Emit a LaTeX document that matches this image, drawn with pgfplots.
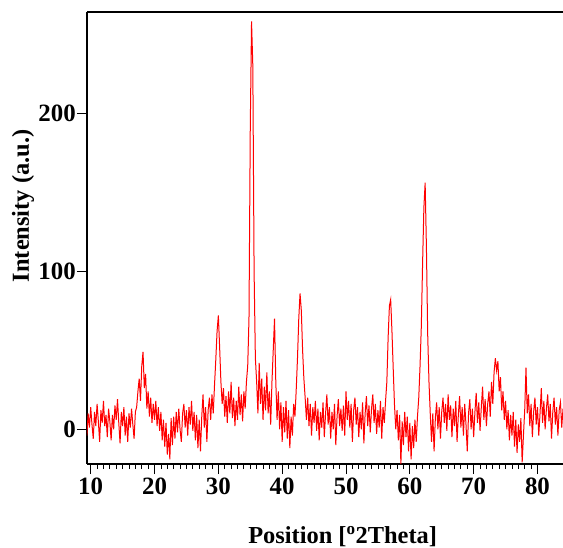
\documentclass[border=0pt]{standalone}
\usepackage{fontspec}
\setmainfont{Liberation Serif}
\usepackage{pgfplots}
\pgfplotsset{compat=1.18}
\begin{document}
\begin{tikzpicture}
\path[use as bounding box] (-87bp,-84bp) rectangle (476bp,464bp);
\begin{axis}[
  at={(0,0)}, anchor=south west,
  scale only axis,
  width=476bp, height=452bp,
  xmin=9.42, xmax=84.0,
  ymin=-22, ymax=264,
  axis x line*=box,
  axis y line*=left,
  axis line style={-, line width=1.2bp, black},
  xtick={10,20,...,80},
  minor x tick num=9,
  ytick={0,100,200},
  xtick pos=bottom,
  ytick pos=left,
  tick align=outside,
  major tick length=10bp,
  minor tick length=5bp,
  every tick/.style={black, line width=0.8bp},
  /pgf/number format/assume math mode=true,
  ticklabel style={font=\bfseries\fontsize{25}{26}\selectfont},
  xticklabel style={inner sep=4bp},
  yticklabel style={inner sep=1bp},
  xlabel={Position [\textsuperscript{o}2Theta]},
  ylabel={Intensity (a.u.)},
  label style={font=\bfseries\fontsize{24.5}{26}\selectfont},
  xlabel style={at={([yshift=-79bp]rel axis cs:0.537,0)}, anchor=base},
  ylabel style={at={([xshift=-58bp]rel axis cs:0,0.571)}, anchor=base, rotate=0},
  clip=true,
]
\addplot[red, line width=1bp, line join=miter] coordinates {
(9.4,-4)(9.6,10)(9.8,1)(10.0,14)(10.2,3)(10.4,-6)(10.6,11)(10.8,2)(11.0,16)(11.2,5)(11.4,-8)(11.6,12)(11.8,4)(12.0,18)(12.2,2)(12.4,9)(12.6,-5)(12.8,13)(13.0,5)(13.2,-7)(13.4,9)(13.6,0)(13.8,15)(14.0,6)(14.2,19)(14.4,4)(14.6,-9)(14.8,11)(15.0,2)(15.2,14)(15.4,-4)(15.6,8)(15.8,-8)(16.0,10)(16.2,1)(16.4,13)(16.6,3)(16.8,-6)(17.0,11)
(17.2,14)(17.4,24)(17.6,32)(17.8,18)(18.0,40)(18.2,49)(18.4,26)(18.6,35)(18.8,13)(19.0,24)(19.2,8)(19.4,20)(19.6,4)(19.8,16)(20.0,6)(20.2,18)(20.4,2)(20.6,14)(20.8,-1)(21.0,11)(21.2,-7)(21.4,6)(21.6,-11)(21.8,4)(22.0,-16)(22.2,-3)(22.4,-19)(22.6,7)(22.8,-10)(23.0,8)(23.2,-6)(23.4,11)(23.6,-2)(23.8,13)(24.0,0)(24.2,-8)(24.4,10)(24.6,16)(24.8,1)(25.0,12)(25.2,-4)(25.4,14)(25.6,3)(25.8,18)(26.0,-1)(26.2,11)(26.4,-7)(26.6,9)(26.8,-12)(27.0,6)(27.2,-14)(27.4,8)(27.6,22)(27.8,1)(28.0,14)(28.2,-8)(28.4,12)(28.6,20)(28.8,6)(29.0,22)(29.2,10)(29.4,28)(29.6,44)(29.8,62)(30.0,72)(30.2,52)(30.4,30)(30.6,16)(30.8,26)(31.0,8)(31.2,21)(31.4,4)(31.6,24)(31.8,10)(32.0,30)(32.2,7)(32.4,20)(32.6,2)(32.8,18)(33.0,6)(33.2,27)(33.4,9)(33.6,22)(33.8,5)(34.0,24)(34.2,13)(34.4,30)(34.6,40)(34.8,70)(35.0,190)(35.2,258)(35.4,230)(35.6,100)(35.8,45)(36.0,30)(36.2,10)(36.4,42)(36.6,16)(36.8,32)(37.0,6)(37.2,27)(37.4,12)(37.6,36)(37.8,10)(38.0,24)(38.2,3)(38.4,30)(38.6,50)(38.8,70)(39.0,30)(39.2,6)(39.4,24)(39.6,0)(39.8,17)(40.0,-8)(40.2,14)(40.4,-2)(40.6,18)(40.8,-6)(41.0,12)(41.2,-12)(41.4,8)(41.6,-4)(41.8,16)(42.0,8)(42.2,25)(42.4,45)(42.6,70)(42.8,86)(43.0,75)(43.2,50)(43.4,32)(43.6,20)(43.8,6)(44.0,20)(44.2,2)(44.4,16)(44.6,-4)(44.8,14)(45.0,4)(45.2,18)(45.4,-1)(45.6,13)(45.8,-7)(46.0,11)(46.2,1)(46.4,17)(46.6,-5)(46.8,10)(47.0,22)(47.2,3)(47.4,14)(47.6,-6)(47.8,11)(48.0,0)(48.2,16)(48.4,-10)(48.6,8)(48.8,19)(49.0,2)(49.2,13)(49.4,-1)(49.6,15)(49.8,-4)(50.0,24)(50.2,6)(50.4,18)(50.6,1)(50.8,16)(51.0,-8)(51.2,12)(51.4,20)(51.6,3)(51.8,14)(52.0,-5)(52.2,11)(52.4,0)(52.6,17)(52.8,-9)(53.0,10)(53.2,21)(53.4,2)(53.6,15)(53.8,-2)(54.0,13)(54.2,22)(54.4,4)(54.6,16)(54.8,-3)(55.0,12)(55.2,1)(55.4,18)(55.6,-6)(55.8,14)(56.0,4)(56.2,18)(56.4,30)(56.6,58)(56.8,78)(57.0,82)(57.2,62)(57.4,38)(57.6,15)(57.8,0)(58.0,12)(58.2,-7)(58.4,9)(58.6,-22)(58.8,5)(59.0,-10)(59.2,11)(59.4,-5)(59.6,8)(59.8,-14)(60.0,4)(60.2,-19)(60.4,2)(60.6,-12)(60.8,6)(61.0,-8)(61.2,8)(61.4,20)(61.6,40)(61.8,65)(62.0,105)(62.2,140)(62.4,156)(62.6,115)(62.8,60)(63.0,30)(63.2,10)(63.4,-8)(63.6,10)(63.8,-14)(64.0,7)(64.2,17)(64.4,0)(64.6,14)(64.8,-6)(65.0,11)(65.2,20)(65.4,4)(65.6,16)(65.8,-1)(66.0,22)(66.2,6)(66.4,15)(66.6,-5)(66.8,13)(67.0,2)(67.2,18)(67.4,-8)(67.6,9)(67.8,21)(68.0,1)(68.2,14)(68.4,-4)(68.6,16)(68.8,3)(69.0,-14)(69.2,10)(69.4,19)(69.6,0)(69.8,13)(70.0,-5)(70.2,11)(70.4,23)(70.6,4)(70.8,17)(71.0,-1)(71.2,14)(71.4,27)(71.6,6)(71.8,19)(72.0,2)(72.2,16)(72.4,24)(72.6,8)(72.8,30)(73.0,16)(73.2,36)(73.4,45)(73.6,37)(73.8,43)(74.0,24)(74.2,33)(74.4,12)(74.6,24)(74.8,6)(75.0,18)(75.2,0)(75.4,12)(75.6,-7)(75.8,9)(76.0,-4)(76.2,11)(76.4,-11)(76.6,6)(76.8,-15)(77.0,3)(77.2,-8)(77.4,7)(77.6,-21)(77.8,-4)(78.0,12)(78.2,39)(78.4,10)(78.6,22)(78.8,2)(79.0,16)(79.2,-5)(79.4,11)(79.6,20)(79.8,3)(80.0,14)(80.2,-4)(80.4,10)(80.6,26)(80.8,4)(81.0,18)(81.2,0)(81.4,13)(81.6,22)(81.8,5)(82.0,16)(82.2,-6)(82.4,11)(82.6,20)(82.8,3)(83.0,14)(83.2,-4)(83.4,12)(83.6,17)(83.8,1)(84.0,13)
};
\end{axis}
\end{tikzpicture}
\end{document}
